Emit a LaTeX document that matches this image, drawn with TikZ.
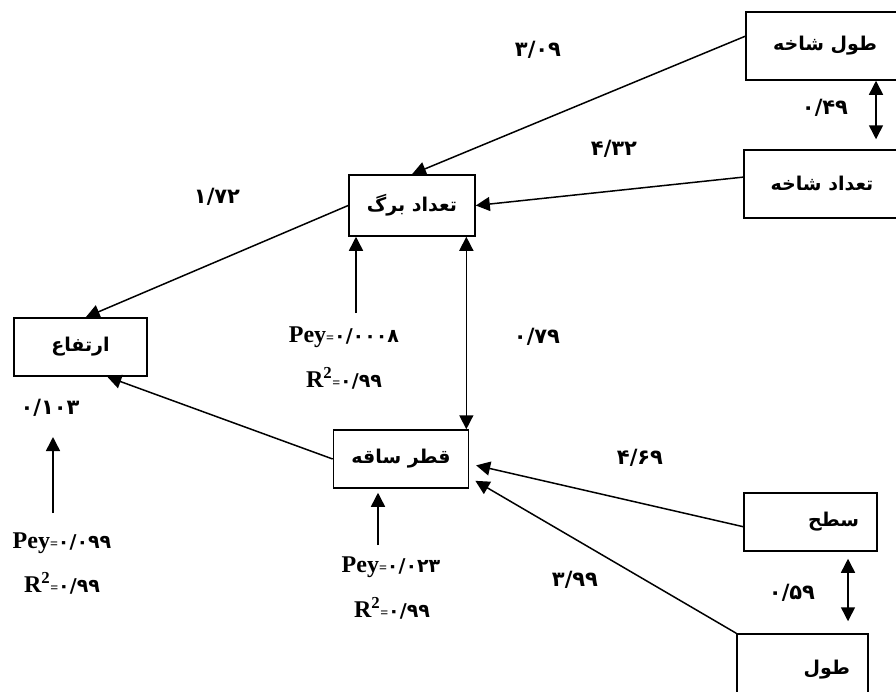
\documentclass[tikz,border=0pt]{standalone}
\usepackage{fontspec}
\setmainfont{Liberation Serif}
\newfontfamily\arabicfont[Script=Arabic]{DejaVu Sans}
\TeXXeTstate=1
\usetikzlibrary{arrows.meta}

\newcommand{\faboxfont}{\arabicfont\bfseries\fontsize{19}{24}\selectfont}
\newcommand{\coeffont}{\arabicfont\bfseries\fontsize{21}{24}\selectfont}
\newcommand{\fanum}[1]{{\arabicfont\bfseries\fontsize{19}{22}\selectfont #1}}
\newcommand{\peyline}[1]{Pey{\fontsize{14}{14}\selectfont=}\fanum{#1}}
\newcommand{\rsqline}[1]{R\textsuperscript{2}{\fontsize{14}{14}\selectfont=}\fanum{#1}}

\begin{document}
\begin{tikzpicture}[x=1pt,y=-1pt,
    factor/.style={draw, line width=1.5pt, minimum height=58pt, inner xsep=18pt, font=\faboxfont},
    link/.style={-{Triangle[length=14pt,width=14pt]}, line width=1.5pt},
    twoway/.style={{Triangle[length=14pt,width=14pt]}-{Triangle[length=14pt,width=14pt]}, line width=1.5pt},
    coef/.style={font=\coeffont},
    stat/.style={font=\bfseries\fontsize{24}{28}\selectfont, inner sep=0pt}]
  \useasboundingbox (0,0) rectangle (896,691);
  \clip (0,0) rectangle (896,691);

  % boxes
  \node[factor, minimum width=158pt, minimum height=68pt] (tulShakheh)   at (825,46)    {\beginR طول شاخه\endR};
  \node[factor, minimum width=156pt, minimum height=68pt] (tedadShakheh) at (822,184)   {\beginR تعداد شاخه\endR};
  \node[factor, minimum width=122pt, minimum height=61pt] (tedadBarg)    at (412,205.5) {\beginR تعداد برگ\endR};
  \node[factor, minimum width=133pt] (ertefa)  at (80.5,347) {\beginR ارتفاع\endR};
  \node[factor, minimum width=132pt] (ghotr)   at (401,459)  {\beginR قطر ساقه\endR};
  \node[factor, text width=97pt, align=right] (sath) at (810.5,522) {\beginR سطح\endR};
  \node[factor, text width=95pt, align=right, minimum height=72pt] (tul) at (802.5,670) {\beginR طول\endR};

  % free ends
  \coordinate (shakhehLink) at (876,0);
  \coordinate (sathLink)    at (848,0);
  \coordinate (bargErr)     at (356,313);
  \coordinate (ertefaErr)   at (53,513);
  \coordinate (ertefaTip)   at (53,437);
  \coordinate (ghotrErr)    at (378,545);

  % paths
  \draw[link] (tulShakheh.173) -- (tedadBarg.north);
  \draw[link] (tedadShakheh.175) -- (tedadBarg.east);
  \draw[link] (tedadBarg.west) -- (ertefa.80);
  \draw[link] (ghotr.west) -- (ertefa.-48);
  \draw[link, shorten >=7pt] (sath.184) -- (ghotr.-4);
  \draw[link, shorten >=7pt] (tul.north west) -- (ghotr.-15);
  \draw[twoway] ([xshift=-3pt]ghotr.north east |- tedadBarg.south) -- ([xshift=-3pt]ghotr.north east);
  \draw[twoway, shorten >=10pt] (shakhehLink |- tulShakheh.south) -- (shakhehLink |- tedadShakheh.north);
  \draw[twoway, shorten <=7pt, shorten >=12pt] (sathLink |- sath.south) -- (sathLink |- tul.north);

  % error terms
  \draw[link] (bargErr) -- (bargErr |- tedadBarg.south);
  \draw[link] (ertefaErr) -- (ertefaTip);
  \draw[link, shorten >=4pt] (ghotrErr) -- (ghotrErr |- ghotr.south);

  % coefficients
  \node[coef] (c309) at (538,50)  {۳/۰۹};
  \node[coef] (c432) at (614,149) {۴/۳۲};
  \node[coef] (c049) at (825,108) {۰/۴۹};
  \node[coef] (c172) at (217,197) {۱/۷۲};
  \node[coef] (c079) at (537,337) {۰/۷۹};
  \node[coef] (c103) at (50,408)  {۰/۱۰۳};
  \node[coef] (c469) at (640,458) {۴/۶۹};
  \node[coef] (c399) at (575,580) {۳/۹۹};
  \node[coef] (c059) at (792,593) {۰/۵۹};

  % fit statistics
  \node[stat] (bargPey)   at (344,337) {\peyline{۰/۰۰۰۸}};
  \node[stat] (bargRsq)   at (344,378) {\rsqline{۰/۹۹}};
  \node[stat] (ertefaPey) at (62,543)  {\peyline{۰/۰۹۹}};
  \node[stat] (ertefaRsq) at (62,583)  {\rsqline{۰/۹۹}};
  \node[stat] (ghotrPey)  at (391,567) {\peyline{۰/۰۲۳}};
  \node[stat] (ghotrRsq)  at (392,608) {\rsqline{۰/۹۹}};
\end{tikzpicture}
\end{document}
